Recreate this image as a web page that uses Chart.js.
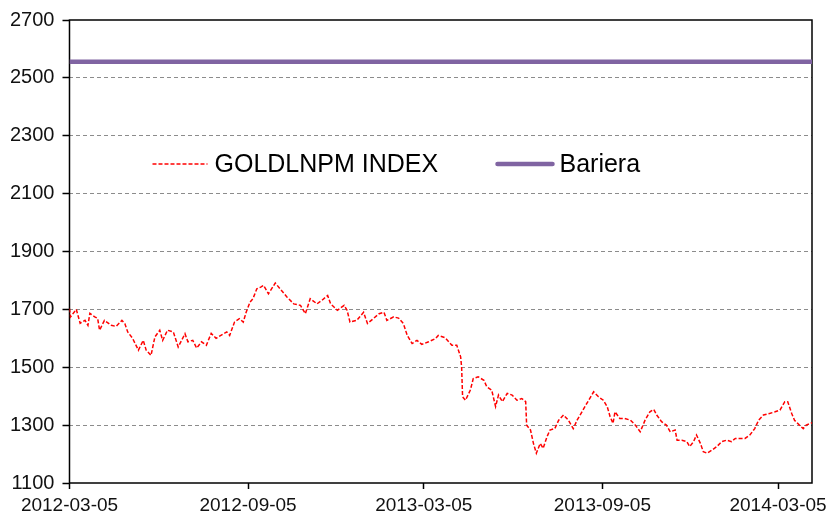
<!DOCTYPE html>
<html>
<head>
<meta charset="utf-8">
<script src="https://cdn.jsdelivr.net/npm/chart.js@4/dist/chart.umd.min.js"></script>
<style>
  html, body { margin: 0; padding: 0; background: #fff; }
</style>
</head>
<body>
<canvas id="gold-chart" width="830" height="518"></canvas>
<script>
// x values are days counted from 2012-03-05
const START = Date.UTC(2012, 2, 5);
const DAY = 86400000;
const dayOf = s => Math.round((Date.parse(s) - START) / DAY);

const tickDates = ['2012-03-05', '2012-09-05', '2013-03-05', '2013-09-05', '2014-03-05'];
const tickDays = tickDates.map(dayOf);
const lastDay = 765;

const goldDays = [
  0, 1, 7, 11, 16, 19, 21, 26, 29, 31, 36, 43, 48, 54, 57, 60, 65, 71, 76, 79,
  84, 88, 93, 96, 101, 107, 112, 119, 122, 127, 131, 136, 141, 146, 151, 156, 162, 165, 170, 175,
  179, 182, 186, 189, 193, 197, 200, 205, 212, 217, 224, 231, 238, 243, 248, 255, 260, 266, 269, 276,
  283, 286, 289, 296, 303, 307, 313, 319, 324, 327, 334, 339, 344, 348, 353, 358, 363, 370, 377, 380,
  387, 394, 399, 403, 404, 405, 408, 413, 416, 421, 427, 430, 435, 439, 442, 446, 451, 456, 461, 466,
  470, 471, 475, 478, 481, 485, 488, 492, 495, 500, 504, 509, 514, 519, 523, 528, 533, 540, 545, 550,
  554, 557, 560, 562, 567, 572, 578, 583, 588, 593, 598, 602, 605, 610, 615, 619, 624, 626, 631, 636,
  639, 643, 646, 650, 653, 657, 662, 667, 672, 677, 682, 686, 691, 696, 701, 706, 710, 715, 722, 727,
  732, 737, 740, 744, 747, 752, 756, 759, 765
];
const goldPrices = [
  1703, 1674, 1700, 1652, 1662, 1645, 1686, 1674, 1669, 1628, 1662, 1645, 1641, 1662, 1651, 1622, 1600, 1559, 1593, 1559,
  1541, 1605, 1628, 1593, 1628, 1622, 1570, 1616, 1588, 1593, 1566, 1588, 1576, 1617, 1600, 1610, 1622, 1610, 1656, 1668,
  1656, 1690, 1725, 1737, 1771, 1777, 1783, 1754, 1791, 1771, 1743, 1719, 1714, 1685, 1737, 1719, 1731, 1748, 1719, 1697,
  1714, 1697, 1656, 1662, 1690, 1651, 1668, 1685, 1690, 1662, 1674, 1670, 1651, 1610, 1582, 1593, 1579, 1588, 1599, 1610,
  1602, 1576, 1576, 1536, 1501, 1398, 1386, 1421, 1461, 1467, 1455, 1432, 1421, 1364, 1404, 1381, 1410, 1404, 1386, 1392,
  1381, 1300, 1283, 1237, 1203, 1237, 1220, 1260, 1283, 1288, 1317, 1335, 1317, 1288, 1317, 1346, 1375, 1415, 1398, 1386,
  1364, 1329, 1306, 1346, 1323, 1323, 1317, 1300, 1277, 1317, 1346, 1354, 1335, 1312, 1300, 1277, 1283, 1248, 1248, 1243,
  1226, 1243, 1266, 1237, 1208, 1203, 1214, 1226, 1243, 1248, 1243, 1254, 1254, 1254, 1266, 1288, 1317, 1335, 1341, 1346,
  1352, 1381, 1381, 1341, 1317, 1300, 1288, 1300, 1308
];
const barrierLevel = 2556;

const yTicks = [1100, 1300, 1500, 1700, 1900, 2100, 2300, 2500, 2700];

const goldPoints = goldDays.map((d, i) => ({ x: d, y: goldPrices[i] }));

// frame round the plot area
const framePlugin = {
  id: 'frame',
  beforeDatasetsDraw(chart) {
    const { ctx, chartArea: a } = chart;
    ctx.save();
    ctx.strokeStyle = '#000';
    ctx.lineWidth = 1.5;
    ctx.strokeRect(a.left, a.top, a.right - a.left, a.bottom - a.top);
    ctx.restore();
  }
};

// legend drawn inside the plot, like the original
const innerLegend = {
  id: 'innerLegend',
  afterDraw(chart) {
    const { ctx, chartArea: a } = chart;
    const y = 164;
    const items = [
      { x: a.left + 83, ds: chart.data.datasets[0] },
      { x: a.left + 428, ds: chart.data.datasets[1] }
    ];
    ctx.save();
    ctx.font = '25px "Liberation Sans", Arial, sans-serif';
    ctx.textBaseline = 'middle';
    items.forEach(it => {
      ctx.strokeStyle = it.ds.borderColor;
      ctx.lineWidth = it.ds.borderWidth;
      ctx.setLineDash(it.ds.borderDash || []);
      ctx.lineCap = it.ds.borderDash ? 'butt' : 'round';
      ctx.beginPath();
      ctx.moveTo(it.x, y);
      ctx.lineTo(it.x + 55, y);
      ctx.stroke();
      ctx.setLineDash([]);
      ctx.fillStyle = '#000';
      ctx.fillText(it.ds.label, it.x + 62, y + 1);
    });
    ctx.restore();
  }
};

const config = {
  type: 'line',
  data: {
    datasets: [
      {
        label: 'GOLDLNPM INDEX',
        data: goldPoints,
        borderColor: '#ff0000',
        borderWidth: 1.5,
        borderDash: [4, 2],
        pointRadius: 0,
        tension: 0,
      },
      {
        label: 'Bariera',
        data: [{ x: 0, y: barrierLevel }, { x: lastDay, y: barrierLevel }],
        borderColor: '#8064a2',
        borderWidth: 4.5,
        pointRadius: 0,
      },
    ],
  },
  options: {
    responsive: false,
    animation: false,
    layout: {
      padding: { left: 2, right: 18, top: 19, bottom: 0 },
    },
    plugins: {
      legend: { display: false },
      tooltip: { enabled: false },
    },
    scales: {
      x: {
        type: 'linear',
        min: 0,
        max: lastDay,
        afterBuildTicks: scale => {
          scale.ticks = tickDays.map(v => ({ value: v }));
        },
        afterFit: scale => {
          scale.height = 35;
          scale.paddingLeft = 0;
          scale.paddingRight = 0;
        },
        ticks: {
          autoSkip: false,
          maxRotation: 0,
          padding: 5,
          color: '#111',
          font: { family: 'Liberation Sans', size: 19 },
          callback: v => tickDates[tickDays.indexOf(v)],
        },
        grid: {
          drawOnChartArea: false,
          tickLength: 6,
          tickColor: '#000',
          tickWidth: 1.5,
        },
        border: { display: false },
      },
      y: {
        min: 1100,
        max: 2700,
        afterBuildTicks: scale => {
          scale.ticks = yTicks.map(v => ({ value: v }));
        },
        ticks: {
          padding: 8,
          color: '#111',
          font: { family: 'Liberation Sans', size: 20 },
          callback: v => String(v),
        },
        grid: {
          color: ctx => (ctx.tick && (ctx.tick.value === 1100 || ctx.tick.value === 2700)) ? 'rgba(0,0,0,0)' : '#8c8c8c',
          lineWidth: 1,
          tickLength: 7,
          tickColor: '#000',
          tickWidth: 1.5,
          tickBorderDash: [],
        },
        border: { display: false, dash: [4, 3] },
      },
    },
  },
  plugins: [framePlugin, innerLegend],
};

const goldChart = new Chart(document.getElementById('gold-chart'), config);
</script>
</body>
</html>
